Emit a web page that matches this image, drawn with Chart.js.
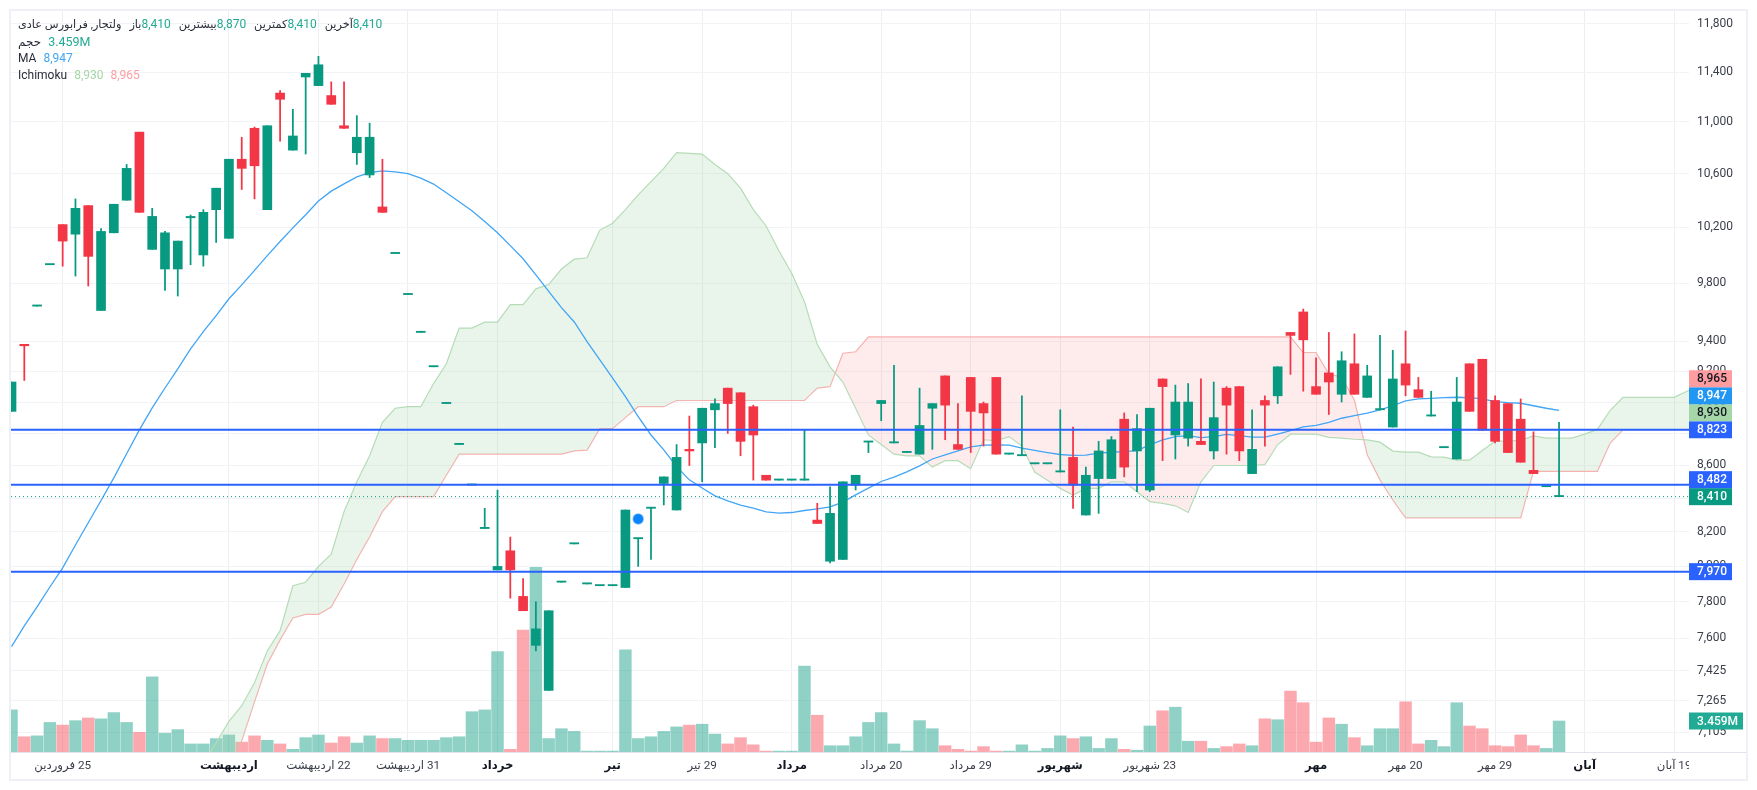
<!DOCTYPE html>
<html lang="fa">
<head>
<meta charset="utf-8">
<title>ولتجار</title>
<script src="https://cdn.jsdelivr.net/npm/chart.js@4/dist/chart.umd.min.js"></script>
<style>
    html, body { margin: 0; padding: 0; background: #fff; }
    #wrap { position: relative; width: 1757px; height: 790px; overflow: hidden; }
    #legend { position: absolute; left: 18px; top: 16px; font: 12px/17px Roboto, "Noto Sans", "DejaVu Sans", sans-serif; color: #2a2e39; direction: ltr; }
    #legend .row { height: 17px; white-space: nowrap; }
    #legend bdi { font-size: 11.3px; }
    #legend .pair { margin-left: 5px; }
    #legend .val { margin-left: 7px; }
    #legend .pair .val { margin-left: 0; }
    #legend .volume bdi { font-size: 12px; }
    #legend .volume .val { font-size: 12.5px; }
    .green { color: #22ab94; }
    .blue { color: #42a5f5; }
    .spanA { color: #a5d6a7; }
    .spanB { color: #ff9da1; }
</style>
</head>
<body>
<div id="wrap">
    <canvas id="chart" dir="rtl" width="1757" height="790"></canvas>
    <div id="legend">
        <div class="row">
            <bdi>ولتجار, فرابورس عادی</bdi>
            <span class="pair"><bdi>باز</bdi><span class="val green">8,410</span></span>
            <span class="pair"><bdi>بیشترین</bdi><span class="val green">8,870</span></span>
            <span class="pair"><bdi>کمترین</bdi><span class="val green">8,410</span></span>
            <span class="pair"><bdi>آخرین</bdi><span class="val green">8,410</span></span>
        </div>
        <div class="row volume"><bdi>حجم</bdi><span class="val green">3.459M</span></div>
        <div class="row"><span>MA</span><span class="val blue">8,947</span></div>
        <div class="row"><span>Ichimoku</span><span class="val spanA">8,930</span><span class="val spanB">8,965</span></div>
    </div>
</div>
<script>
const opens = [
    8940, 9380, 9640, 9930, 10220, 10150, 10360, 9610, 10160, 10400,
    10920, 10040, 9900, 9900, 10270, 10000, 10330, 10120, 10710, 10950,
    10330, 11230, 10780, 11360, 11290, 11210, 10970, 10760, 10590, 10350,
    10010, 9720, 9460, 9230, 8990, 8730, 8480, 8220, 7980, 8090,
    7830, 7560, 7320, 7910, 8130, 7900, 7890, 7890, 7880, 8160,
    8340, 8490, 8330, 8700, 8740, 8950, 9090, 9060, 8970, 8540,
    8510, 8510, 8510, 8270, 8030, 8040, 8480, 8745, 8990, 8740,
    8680, 8670, 8960, 9170, 8730, 9160, 8990, 9160, 8670, 8660,
    8610, 8610, 8560, 8650, 8300, 8520, 8520, 8890, 8690, 8450,
    9150, 8790, 8770, 8750, 8690, 9090, 9100, 8550, 9010, 9040,
    9460, 9600, 9100, 9190, 9050, 9250, 9030, 8950, 8840, 9250,
    9080, 8910, 8710, 8640, 9250, 9280, 9010, 8990, 8890, 8570,
    8470, 8410
];
const highs = [
    9130, 9380, 9640, 9930, 10220, 10410, 10360, 10190, 10370, 10670,
    10920, 10340, 10170, 10100, 10290, 10330, 10490, 10710, 10880, 10960,
    10970, 11250, 11100, 11390, 11530, 11320, 11320, 11050, 10990, 10710,
    10010, 9720, 9460, 9230, 8990, 8730, 8480, 8340, 8450, 8170,
    7930, 7800, 7750, 7910, 8130, 7900, 7890, 7890, 8330, 8160,
    8340, 8530, 8730, 8910, 8960, 9020, 9090, 9060, 8980, 8540,
    8510, 8510, 8820, 8370, 8470, 8500, 8540, 8745, 9010, 9240,
    8680, 9090, 8990, 9170, 8990, 9160, 9000, 9160, 8670, 9040,
    8610, 8610, 8950, 8840, 8590, 8750, 8780, 8930, 8920, 8960,
    9150, 9110, 9120, 9150, 9130, 9100, 9100, 8950, 9040, 9230,
    9460, 9620, 9290, 9460, 9330, 9450, 9240, 9440, 9340, 9470,
    9160, 9070, 8710, 9160, 9250, 9280, 9040, 8990, 9020, 8810,
    8470, 8870
];
const lows = [
    8940, 9140, 9640, 9930, 9920, 9850, 9780, 9610, 10160, 10400,
    10310, 10040, 9750, 9710, 9930, 9920, 10090, 10120, 10480, 10410,
    10330, 10850, 10780, 10750, 11290, 11140, 10950, 10670, 10570, 10310,
    10010, 9720, 9460, 9230, 8990, 8730, 8480, 8220, 7980, 7820,
    7750, 7530, 7320, 7910, 8130, 7900, 7890, 7890, 7880, 8000,
    8040, 8360, 8330, 8600, 8500, 8710, 8800, 8660, 8510, 8510,
    8510, 8510, 8510, 8250, 8020, 8040, 8450, 8680, 8880, 8740,
    8680, 8670, 8700, 8760, 8700, 8680, 8720, 8670, 8670, 8660,
    8610, 8610, 8560, 8340, 8300, 8310, 8520, 8530, 8440, 8440,
    8630, 8640, 8720, 8730, 8640, 8670, 8630, 8550, 8720, 8990,
    9180, 9070, 9050, 8920, 9000, 9050, 9030, 8950, 8840, 9040,
    9030, 8910, 8710, 8640, 8940, 8820, 8740, 8680, 8620, 8550,
    8470, 8410
];
const closes = [
    9130, 9370, 9640, 9930, 10100, 10340, 9990, 10170, 10370, 10640,
    10310, 10280, 10160, 10100, 10280, 10310, 10490, 10710, 10640, 10660,
    10970, 11180, 10890, 11390, 11460, 11140, 10950, 10880, 10880, 10310,
    10010, 9720, 9460, 9230, 8990, 8730, 8480, 8220, 8000, 7980,
    7750, 7650, 7750, 7910, 8130, 7900, 7890, 7890, 8330, 8160,
    8340, 8530, 8650, 8690, 8960, 8990, 8990, 8750, 8790, 8510,
    8510, 8510, 8510, 8250, 8310, 8500, 8540, 8745, 9010, 8740,
    8680, 8850, 8990, 8980, 8700, 8940, 8930, 8670, 8670, 8660,
    8610, 8610, 8560, 8480, 8540, 8690, 8760, 8590, 8830, 8960,
    9100, 9000, 9000, 8730, 8900, 8980, 8690, 8700, 8980, 9230,
    9440, 9410, 9050, 9130, 9270, 9050, 9170, 8950, 9150, 9110,
    9030, 8910, 8710, 9000, 8940, 8820, 8750, 8680, 8620, 8550,
    8470, 8410
];
// volume in millions
const volumes = [
    4.7, 1.7, 1.8, 3.3, 3.0, 3.5, 3.8, 3.7, 4.4, 3.3,
    2.2, 8.4, 2.1, 2.5, 0.9, 0.9, 1.5, 1.9, 1.1, 1.8,
    1.3, 0.9, 0.3, 1.6, 1.9, 1.0, 1.7, 1.0, 1.8, 1.5,
    1.5, 1.3, 1.3, 1.3, 1.6, 1.7, 4.5, 4.7, 11.2, 0.3,
    13.6, 20.6, 1.5, 2.6, 2.3, 0.1, 0.1, 0.1, 11.4, 1.5,
    1.7, 2.3, 2.8, 3.0, 3.1, 2.0, 0.9, 1.6, 0.8, 0.1,
    0.1, 0.1, 9.6, 4.1, 0.7, 0.7, 1.7, 3.3, 4.4, 0.9,
    0.1, 3.5, 2.6, 0.7, 0.3, 0.1, 0.6, 0.1, 0.1, 0.8,
    0.1, 0.4, 1.8, 1.5, 1.7, 0.4, 1.5, 0.3, 0.2, 2.9,
    4.6, 5.0, 1.2, 1.2, 0.4, 0.6, 0.9, 0.7, 3.7, 3.6,
    6.8, 5.5, 1.1, 3.8, 3.1, 1.6, 0.7, 2.6, 2.6, 5.6,
    0.9, 1.3, 0.6, 5.5, 2.9, 2.6, 0.7, 0.6, 1.9, 0.7,
    0.4, 3.459
];
const movingAverage = [
    7553, 7666, 7771, 7883, 7992, 8124, 8254, 8387, 8524, 8673,
    8822, 8962, 9091, 9216, 9349, 9465, 9575, 9691, 9788, 9890,
    9995, 10097, 10196, 10292, 10394, 10468, 10523, 10575, 10608, 10621,
    10613, 10600, 10566, 10521, 10456, 10389, 10322, 10243, 10160, 10067,
    9973, 9859, 9742, 9630, 9531, 9398, 9276, 9155, 9035, 8906,
    8790, 8697, 8593, 8512, 8462, 8415, 8385, 8359, 8341, 8319,
    8311, 8315, 8327, 8337, 8349, 8377, 8421, 8462, 8502, 8529,
    8561, 8598, 8640, 8666, 8691, 8716, 8726, 8728, 8726, 8707,
    8693, 8680, 8668, 8662, 8664, 8676, 8682, 8686, 8692, 8728,
    8759, 8780, 8786, 8773, 8780, 8794, 8786, 8776, 8776, 8796,
    8817, 8841, 8851, 8870, 8896, 8913, 8928, 8949, 8976, 9007,
    9020, 9024, 9028, 9031, 9028, 9020, 9002, 8996, 8992, 8976,
    8960, 8947
];
const spanA = [
    null, null, null, null, null, null, null, null, null, null,
    null, null, null, null, null, 6950, 7050, 7160, 7240, 7360,
    7530, 7640, 7890, 7910, 8000, 8070, 8320, 8500, 8660, 8870,
    8960, 8970, 8970, 9120, 9250, 9490, 9490, 9530, 9530, 9650,
    9650, 9760, 9790, 9900, 9970, 9980, 10180, 10230, 10330, 10440,
    10540, 10640, 10760, 10755, 10750, 10670, 10600, 10490, 10330, 10210,
    10030, 9870, 9670, 9380, 9230, 9130, 8960, 8790, 8730, 8670,
    8660, 8660, 8590, 8630, 8630, 8580, 8760, 8755, 8780, 8720,
    8560, 8510, 8460, 8420, 8460, 8460, 8500, 8500, 8440, 8380,
    8370, 8355, 8315, 8500, 8600, 8600, 8600, 8600, 8605, 8730,
    8795, 8795, 8795, 8775, 8770, 8763, 8759, 8745, 8689, 8683,
    8683, 8653, 8652, 8633, 8633, 8693, 8751, 8751, 8757, 8784,
    8770, 8770, 8770, 8795, 8825, 8947, 9030, 9030, 9030, 9030,
    9030, 9070, 9100
];
const spanB = [
    null, null, null, null, null, null, null, null, null, null,
    null, null, null, null, null, 6560, 6710, 6865, 7060, 7260,
    7460, 7590, 7710, 7730, 7730, 7770, 7900, 8040, 8170, 8320,
    8410, 8410, 8410, 8410, 8540, 8670, 8670, 8670, 8670, 8670,
    8670, 8670, 8670, 8670, 8690, 8695, 8830, 8830, 8900, 8970,
    8970, 8970, 9010, 9010, 9010, 9010, 9010, 9010, 9010, 9010,
    9010, 9010, 9010, 9090, 9100, 9320, 9330, 9430, 9430, 9430,
    9430, 9430, 9430, 9430, 9430, 9430, 9430, 9430, 9430, 9430,
    9430, 9430, 9430, 9430, 9430, 9430, 9430, 9430, 9430, 9430,
    9430, 9430, 9430, 9430, 9430, 9430, 9430, 9430, 9430, 9430,
    9430, 9325, 9325, 9183, 9161, 9013, 8666, 8512, 8390, 8283,
    8283, 8283, 8283, 8283, 8283, 8283, 8283, 8283, 8283, 8564,
    8564, 8564, 8564, 8564, 8564, 8739, 8822, 8822, 8822, 8822,
    8822, 8822, 8822
];
const priceTicks = [11800, 11400, 11000, 10600, 10200, 9800, 9400, 9200, 9000, 8800, 8600, 8400, 8200, 8000, 7800, 7600, 7425, 7265, 7105];
const timeTickIndexes = [4, 17, 24, 31, 38, 47, 54, 61, 68, 75, 82, 89, 102, 109, 116, 123, 130];
const timeTickLabels = ['25 فروردین', 'اردیبهشت', '22 اردیبهشت', '31 اردیبهشت', 'خرداد', 'تیر', '29 تیر', 'مرداد', '20 مرداد', '29 مرداد', 'شهریور', '23 شهریور', 'مهر', '20 مهر', '29 مهر', 'آبان', '19 آبان'];
const monthLabels = ['اردیبهشت', 'خرداد', 'تیر', 'مرداد', 'شهریور', 'مهر', 'آبان'];
const levelPrices = [8823, 8482, 7970];
const lastPrice = 8410;
const markerIndex = 49;
const markerPrice = 8277;
const tagValues = [7970, 8410, 8482, 8823, 8930, 8947, 8965];
const tagColors = ['#2962ff', '#089981', '#2962ff', '#2962ff', '#a5d6a7', '#2196f3', '#ff9da1'];
const tagTextColors = ['#fff', '#fff', '#fff', '#fff', '#131722', '#fff', '#131722'];
const lastVolume = 3.459;

const GREEN = '#089981';
const RED = '#f23645';
const FONT = 'Roboto, "Noto Sans", "DejaVu Sans", sans-serif';
const xMin = -0.04;
const xMax = 131.16;

const isUp = i => closes[i] >= opens[i];
const toPoints = values => values.map((y, x) => ({ x, y }));
const candleColors = opens.map((_, i) => isUp(i) ? GREEN : RED);
const volumeColors = opens.map((_, i) => isUp(i) ? 'rgba(8, 153, 129, 0.45)' : 'rgba(247, 82, 95, 0.5)');
const hLine = price => [{ x: xMin, y: price }, { x: xMax, y: price }];

// the plot keeps its full size, no room reserved for half a tick label
const noLabelPadding = scale => {
    scale.paddingTop = 0;
    scale.paddingBottom = 0;
    scale.paddingLeft = 0;
    scale.paddingRight = 0;
};

const chartChrome = {
    id: 'chartChrome',
    afterDraw(chart) {
        const { ctx, chartArea, scales } = chart;
        ctx.save();

        // time labels are cut off at the price axis
        ctx.fillStyle = '#fff';
        ctx.fillRect(chartArea.right, chartArea.bottom + 1, 57, 26);

        ctx.strokeStyle = '#e0e3eb';
        ctx.lineWidth = 1;
        ctx.beginPath();
        ctx.moveTo(chartArea.left, chartArea.bottom + 0.5);
        ctx.lineTo(1746, chartArea.bottom + 0.5);
        ctx.stroke();

        ctx.strokeStyle = '#eff0f6';
        ctx.lineWidth = 2;
        ctx.strokeRect(10, 10, 1737, 770);

        // price tags, pushed upward when they would overlap
        ctx.direction = 'ltr';
        ctx.font = '500 12px ' + FONT;
        ctx.textAlign = 'left';
        ctx.textBaseline = 'middle';
        let prevY = Infinity;
        tagValues.forEach((value, i) => {
            const y = Math.min(scales.y.getPixelForValue(value), prevY - 17);
            prevY = y;
            ctx.fillStyle = tagColors[i];
            ctx.fillRect(chartArea.right, y - 8.5, 43, 17);
            ctx.fillStyle = tagTextColors[i];
            ctx.fillText(value.toLocaleString('en-US'), chartArea.right + 8, y + 0.5);
        });

        const volY = scales.volume.getPixelForValue(lastVolume);
        ctx.fillStyle = '#22ab94';
        ctx.fillRect(chartArea.right, volY - 8.5, 54, 17);
        ctx.fillStyle = '#fff';
        ctx.fillText(lastVolume + 'M', chartArea.right + 8, volY + 0.5);
        ctx.restore();
    }
};

new Chart(document.getElementById('chart'), {
    type: 'bar',
    plugins: [chartChrome],
    data: {
        datasets: [
            {
                label: 'volume',
                yAxisID: 'volume',
                data: toPoints(volumes),
                backgroundColor: volumeColors,
                barThickness: 11.8,
                grouped: false,
                order: 6
            },
            {
                type: 'line',
                label: 'spanA',
                data: toPoints(spanA),
                borderColor: '#b5dcb7',
                borderWidth: 1.2,
                pointRadius: 0,
                fill: { target: '+1', above: 'rgba(165, 214, 167, 0.24)', below: 'rgba(247, 82, 95, 0.11)' },
                order: 5
            },
            {
                type: 'line',
                label: 'spanB',
                data: toPoints(spanB),
                borderColor: '#fbb4b4',
                borderWidth: 1.2,
                pointRadius: 0,
                fill: false,
                order: 5
            },
            {
                type: 'line',
                label: 'MA',
                data: toPoints(movingAverage),
                borderColor: '#42a5f5',
                borderWidth: 1.3,
                pointRadius: 0,
                fill: false,
                order: 4
            },
            {
                label: 'wick',
                data: lows.map((low, x) => ({ x, y: [low, highs[x]] })),
                backgroundColor: candleColors,
                barThickness: 1.1,
                grouped: false,
                order: 3
            },
            {
                label: 'body',
                data: opens.map((open, x) => ({ x, y: [open, closes[x]] })),
                backgroundColor: candleColors,
                barThickness: 9,
                minBarLength: 1.2,
                grouped: false,
                order: 2
            },
            ...levelPrices.map(price => ({
                type: 'line',
                label: 'level ' + price,
                data: hLine(price),
                borderColor: '#2962ff',
                borderWidth: 2,
                pointRadius: 0,
                fill: false,
                order: 1
            })),
            {
                type: 'line',
                label: 'last',
                data: hLine(lastPrice),
                borderColor: GREEN,
                borderWidth: 1,
                borderDash: [1, 3],
                pointRadius: 0,
                fill: false,
                order: 1
            },
            {
                type: 'line',
                label: 'marker',
                data: [{ x: markerIndex, y: markerPrice }],
                showLine: false,
                pointRadius: 5,
                pointBackgroundColor: '#0a84ff',
                pointBorderColor: 'rgba(33, 150, 243, 0.55)',
                pointBorderWidth: 1.5,
                order: 0
            }
        ]
    },
    options: {
        responsive: false,
        animation: false,
        devicePixelRatio: 1,
        layout: { padding: { left: 11, top: 11, right: 11, bottom: 11 } },
        plugins: { legend: { display: false }, tooltip: { enabled: false } },
        scales: {
            x: {
                type: 'linear',
                position: 'bottom',
                min: xMin,
                max: xMax,
                offset: false,
                afterFit: scale => {
                    scale.height = 27;
                    noLabelPadding(scale);
                },
                afterBuildTicks: scale => {
                    scale.ticks = timeTickIndexes.map(value => ({ value }));
                },
                grid: { offset: false, color: '#eceef1', drawTicks: false },
                border: { display: false },
                ticks: {
                    autoSkip: false,
                    maxRotation: 0,
                    padding: 7,
                    color: ctx => monthLabels.includes(timeTickLabels[ctx.index]) ? '#131722' : '#3a3e49',
                    font: ctx => ({
                        family: FONT,
                        size: 11.7,
                        weight: monthLabels.includes(timeTickLabels[ctx.index]) ? 'bold' : 'normal'
                    }),
                    callback: value => timeTickLabels[timeTickIndexes.indexOf(value)]
                }
            },
            y: {
                type: 'logarithmic',
                position: 'right',
                min: 7004,
                max: 11910,
                afterFit: scale => {
                    scale.width = 57;
                    noLabelPadding(scale);
                },
                afterBuildTicks: scale => {
                    scale.ticks = priceTicks.map(value => ({ value }));
                },
                grid: { color: '#f2f3f6', drawTicks: false },
                border: { display: false },
                ticks: {
                    autoSkip: false,
                    padding: 8,
                    color: '#3a3e49',
                    font: { family: FONT, size: 12 },
                    callback: value => value.toLocaleString('en-US')
                }
            },
            volume: {
                type: 'linear',
                display: false,
                position: 'left',
                min: 0,
                max: 82.7,
                grid: { display: false }
            }
        }
    }
});
</script>
</body>
</html>
